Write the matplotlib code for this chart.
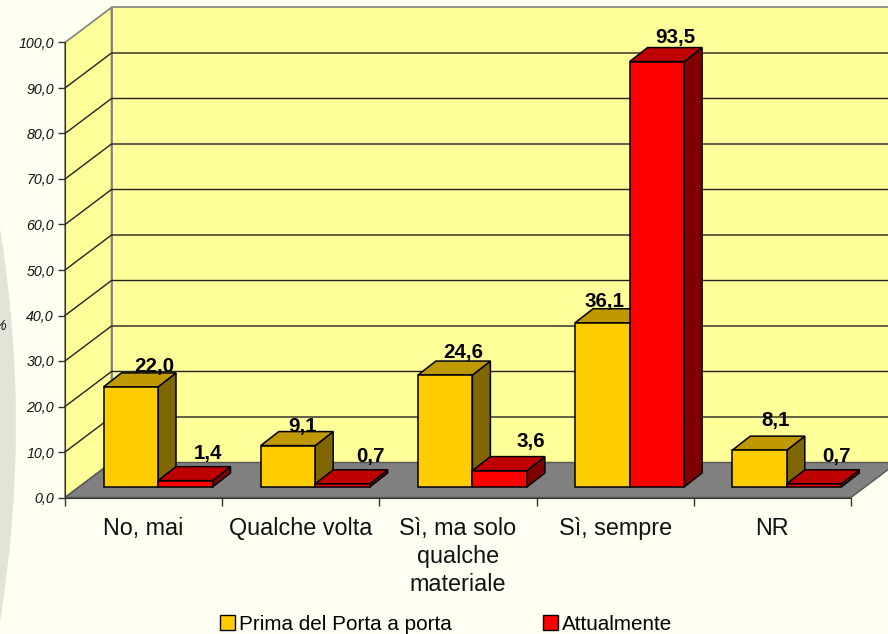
import matplotlib
matplotlib.use('Agg')
import matplotlib.pyplot as plt
from matplotlib.patches import Patch, PathPatch, Polygon
from matplotlib.path import Path

plt.rcParams['font.family'] = ['Liberation Sans', 'DejaVu Sans']

# dati
categories = ['No, mai', 'Qualche volta', 'Sì, ma solo\nqualche\nmateriale', 'Sì, sempre', 'NR']
prima = [22.0, 9.1, 24.6, 36.1, 8.1]
attuale = [1.4, 0.7, 3.6, 93.5, 0.7]
y_ticks = [0, 10, 20, 30, 40, 50, 60, 70, 80, 90, 100]
series_names = ['Prima del Porta a porta', 'Attualmente']

# spostamento a mano delle etichette (pixel rispetto al centro della barra / retro della barra)
prima_nudge = [(24, 1), (15, 0), (18, 3), (2, 2), (16, 10)]
attuale_nudge = [(23, 8), (28, 8), (31, 10), (18, 5), (22, 8)]

# scala: pixel per unita'
PX_X = 157.2
PX_Y = 4.55
X0 = 65
Y0 = 497.5

# profondita' del muro e delle barre, in unita' dati
wall_dx = 46.5 / PX_X
wall_dy = 35 / PX_Y
bar_dx = 18 / PX_X
bar_dy = 14 / PX_Y
bar_left = 38.5 / PX_X
bar_w = 54.5 / PX_X
bar_base = 10.5 / PX_Y

bg = '#FFFFF2'
fig = plt.figure(figsize=(8.88, 6.34), dpi=100, facecolor=bg)
ax = fig.add_axes([0, 0, 1, 1])
ax.set_xlim(-X0 / PX_X, (888 - X0) / PX_X)
ax.set_ylim((Y0 - 634) / PX_Y, Y0 / PX_Y)
ax.patch.set_visible(False)

# macchia grigia sullo sfondo a sinistra
swoosh = Path([(0, 1 - 228 / 634), (32 / 888, 1 - 425 / 634), (0, 1 - 622 / 634), (0, 1 - 228 / 634)],
              [Path.MOVETO, Path.CURVE3, Path.CURVE3, Path.CLOSEPOLY])
fig.add_artist(PathPatch(swoosh, transform=fig.transFigure, facecolor='#E3E3D8', edgecolor='none', zorder=-1))

n = len(categories)
wall_grey = '#808080'

# pareti e pavimento
ax.add_patch(Polygon([(wall_dx, wall_dy), (n + wall_dx, wall_dy), (n + wall_dx, 100 + wall_dy), (wall_dx, 100 + wall_dy)],
                     facecolor='#FFFF99', edgecolor=wall_grey, linewidth=1.2, zorder=1))
ax.add_patch(Polygon([(0, 0), (wall_dx, wall_dy), (wall_dx, 100 + wall_dy), (0, 100)],
                     facecolor='#FFFF99', edgecolor=wall_grey, linewidth=1.2, zorder=1))
ax.add_patch(Polygon([(0, 0), (n, 0), (n + wall_dx, wall_dy), (wall_dx, wall_dy)],
                     facecolor='#808080', edgecolor='#555555', linewidth=1, zorder=2))

for v in y_ticks[1:-1]:
    ax.plot([0, wall_dx, n + wall_dx], [v, v + wall_dy, v + wall_dy], color='#222222', linewidth=1, zorder=2)


def draw_bar(x, value, front, top, side, z):
    y0 = bar_base
    y1 = bar_base + value
    x1 = x + bar_w
    ax.add_patch(Polygon([(x1, y0), (x1 + bar_dx, y0 + bar_dy), (x1 + bar_dx, y1 + bar_dy), (x1, y1)],
                         facecolor=side, edgecolor='black', linewidth=1.1, zorder=z))
    ax.add_patch(Polygon([(x, y1), (x1, y1), (x1 + bar_dx, y1 + bar_dy), (x + bar_dx, y1 + bar_dy)],
                         facecolor=top, edgecolor='black', linewidth=1.1, zorder=z))
    ax.add_patch(Polygon([(x, y0), (x1, y0), (x1, y1), (x, y1)],
                         facecolor=front, edgecolor='black', linewidth=1.1, zorder=z))


def draw_label(x, value, nudge):
    lx = x + bar_w / 2 + nudge[0] / PX_X
    ly = bar_base + value + bar_dy + nudge[1] / PX_Y
    ax.text(lx, ly, f'{value:.1f}'.replace('.', ','), ha='center', va='baseline',
            fontsize=14.8, fontweight='bold', color='black', zorder=10)


for i in range(n):
    x = i + bar_left
    draw_bar(x, prima[i], '#FFCC00', '#BF9900', '#806600', 3 + i * 0.1)
    draw_bar(x + bar_w, attuale[i], '#FF0000', '#BF0000', '#800000', 3.05 + i * 0.1)

for i in range(n):
    x = i + bar_left
    draw_label(x, prima[i], prima_nudge[i])
    draw_label(x + bar_w, attuale[i], attuale_nudge[i])

# assi
for s in ['top', 'right']:
    ax.spines[s].set_visible(False)
ax.spines['left'].set_position(('data', 0))
ax.spines['bottom'].set_position(('data', 0))
ax.spines['left'].set_bounds(0, 100)
ax.spines['bottom'].set_bounds(0, n)
ax.spines['left'].set_color('#333333')
ax.spines['bottom'].set_color('#333333')
ax.spines['left'].set_zorder(5)
ax.spines['bottom'].set_zorder(5)

ax.set_yticks(y_ticks)
ax.set_yticklabels([f'{v:.1f}'.replace('.', ',') for v in y_ticks], fontsize=10.3, fontstyle='italic', color='#111111')
ax.tick_params(axis='y', length=5, width=1, color='#333333', pad=3)

ax.set_xticks(range(n + 1))
ax.set_xticklabels([])
ax.tick_params(axis='x', which='major', length=6, width=1, color='#333333')
ax.set_xticks([i + 0.5 for i in range(n)], minor=True)
ax.set_xticklabels(categories, minor=True, fontsize=16.8, color='#111111', linespacing=1.27, va='top')
ax.tick_params(axis='x', which='minor', length=0, pad=14)

ax.text(6.5 / PX_X - X0 / PX_X, (Y0 - 326) / PX_Y, '%', ha='right', va='center', fontsize=10.3, fontstyle='italic', color='#111111')

handles = [Patch(facecolor='#FFCC00', edgecolor='black', linewidth=1), Patch(facecolor='#FF0000', edgecolor='black', linewidth=1)]
ax.legend(handles, series_names, ncol=2, frameon=False, fontsize=14.9, handlelength=0.72, handleheight=0.72,
          handletextpad=0.2, columnspacing=4.4, borderpad=0, borderaxespad=0,
          loc='center', bbox_to_anchor=(446 / 888, 1 - 624.5 / 634))

fig.savefig('out.png', dpi=100, facecolor=bg)
